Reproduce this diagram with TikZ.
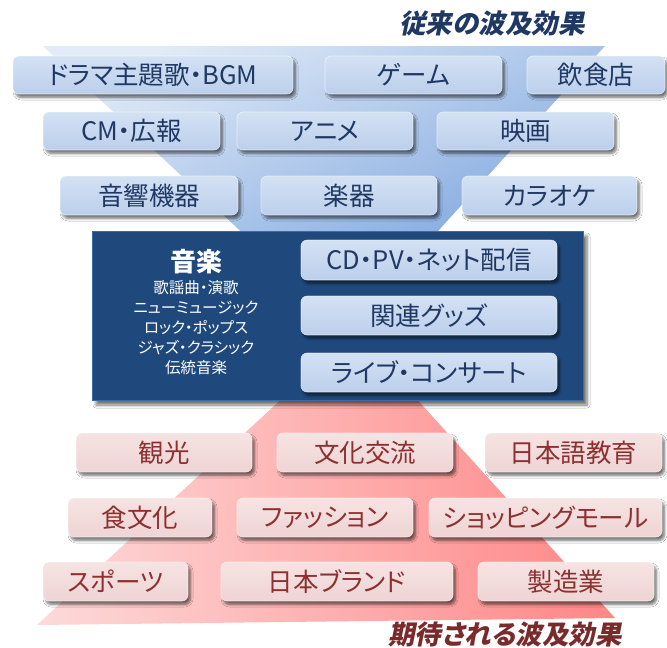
\documentclass[tikz,border=0pt]{standalone}
\usepackage{fontspec}
\setmainfont{Noto Sans CJK JP}[RawFeature=+palt]
\newfontfamily\ttlfont{Noto Sans CJK JP}[FakeSlant=0.2,RawFeature=+palt]
\usetikzlibrary{shadows.blur}

\definecolor{navytext}{HTML}{1F3864}
\definecolor{redtext}{HTML}{8E3030}
\definecolor{redtitle}{HTML}{7A2A2A}
\definecolor{bluefillA}{HTML}{D3E1F4}
\definecolor{bluefillB}{HTML}{BCCFEB}
\definecolor{pinkfillA}{HTML}{F6E3E3}
\definecolor{pinkfillB}{HTML}{EFD4D4}
\definecolor{darkbox}{HTML}{1F497D}
\definecolor{darkedge}{HTML}{3D6BA6}
\definecolor{trapBlueA}{HTML}{E2EBF7}
\definecolor{trapBlueB}{HTML}{84AAE0}
\definecolor{trapRedA}{HTML}{FDDADA}
\definecolor{trapRedB}{HTML}{FF8686}

\tikzset{
  boxbase/.style={rounded corners=6pt, inner sep=0pt,
    font=\fontsize{25.5}{25.5}\selectfont,
    draw=white, draw opacity=0.6, line width=0.6pt,
    blur shadow={shadow xshift=2.5pt, shadow yshift=-3.5pt,
      shadow blur radius=2.5pt, shadow blur steps=6, shadow opacity=55}},
  bluebox/.style={boxbase, top color=bluefillA, bottom color=bluefillB, text=navytext},
  pinkbox/.style={boxbase, top color=pinkfillA, bottom color=pinkfillB, text=redtext},
  mainbox/.style={inner sep=0pt, fill=darkbox, draw=darkedge, line width=1pt,
    blur shadow={shadow xshift=4pt, shadow yshift=-5pt,
      shadow blur radius=3pt, shadow blur steps=6, shadow opacity=55}},
  titletext/.style={font=\ttlfont\fontsize{26.5}{26.5}\selectfont\bfseries},
}

\newcommand\placebox[7]{\node[#1, minimum width={(#5-#3)*1pt},
  minimum height={(#6-#4)*1pt}] (#2) at ({(#3+#5)/2},{(#4+#6)/2}) {#7};}

\begin{document}
\begin{tikzpicture}[x=1pt,y=-1pt]
\fill[white] (0,0) rectangle (667,648);
\useasboundingbox (0,0) rectangle (667,648);

% background trapezoids
\shade[top color=trapBlueA, bottom color=trapBlueB, shading angle=25]
  (43,46) -- (605,46) -- (430,240) -- (250,240) -- cycle;
\shade[left color=trapRedA, right color=trapRedB]
  (286,395) -- (413,395) -- (615,618) -- (37,625) -- cycle;

% titles
\node[titletext, text=navytext] (ttop) at (492,23) {従来の波及効果};
\node[titletext, text=redtitle] (tbot) at (505,634) {期待される波及効果};

% blue boxes
\placebox{bluebox}{b1}{13}{56}{293}{94}{ドラマ主題歌・BGM}
\placebox{bluebox}{b2}{325}{56}{502}{94}{ゲーム}
\placebox{bluebox}{b3}{527}{56}{665}{94}{飲食店}
\placebox{bluebox}{b4}{43}{112}{220}{150}{CM・広報}
\placebox{bluebox}{b5}{237}{112}{413}{150}{アニメ}
\placebox{bluebox}{b6}{437}{112}{614}{150}{映画}
\placebox{bluebox}{b7}{60}{176}{238}{215}{音響機器}
\placebox{bluebox}{b8}{261}{176}{437}{215}{楽器}
\placebox{bluebox}{b9}{462}{176}{637}{215}{カラオケ}

% central box
\placebox{mainbox}{core}{92}{231}{583}{400}{}
\node[text=white, font=\fontsize{26}{26}\selectfont\bfseries] (music) at (196,262) {音楽};
\node[text=white, align=center, font=\fontsize{15.5}{20}\selectfont] (genres) at (196,328)
  {歌謡曲・演歌\\ニューミュージック\\ロック・ポップス\\ジャズ・クラシック\\伝統音楽};
\placebox{bluebox}{c1}{301}{240}{557}{280}{CD・PV・ネット配信}
\placebox{bluebox}{c2}{301}{296}{557}{335}{関連グッズ}
\placebox{bluebox}{c3}{301}{353}{557}{392}{ライブ・コンサート}

% pink boxes
\placebox{pinkbox}{r1}{76}{433}{252}{472}{観光}
\placebox{pinkbox}{r2}{277}{433}{453}{472}{文化交流}
\placebox{pinkbox}{r3}{485}{433}{662}{472}{日本語教育}
\placebox{pinkbox}{r4}{68}{498}{212}{537}{食文化}
\placebox{pinkbox}{r5}{237}{498}{413}{537}{ファッション}
\placebox{pinkbox}{r6}{429}{498}{662}{537}{ショッピングモール}
\placebox{pinkbox}{r7}{43}{562}{188}{601}{スポーツ}
\placebox{pinkbox}{r8}{221}{562}{453}{601}{日本ブランド}
\placebox{pinkbox}{r9}{478}{562}{654}{601}{製造業}
\end{tikzpicture}
\end{document}
